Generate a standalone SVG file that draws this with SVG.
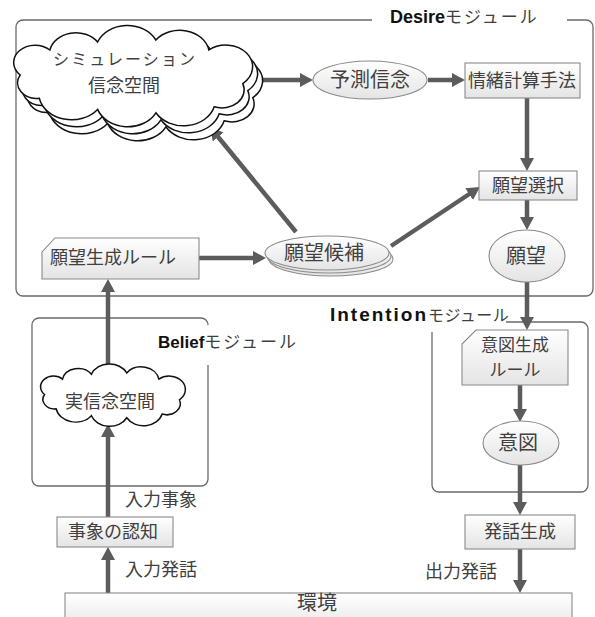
<svg xmlns="http://www.w3.org/2000/svg" xmlns:xlink="http://www.w3.org/1999/xlink" width="595" height="617" viewBox="0 0 595 617">
<style>
.mod{fill:none;stroke:#6a6a6a;stroke-width:1.3}
.box{fill:url(#g);stroke:#8a8a8a;stroke-width:1.1}
.cloud{fill:#fff;stroke:#111;stroke-width:1.5}
.t{font-family:"Noto Sans CJK JP","Liberation Sans",sans-serif;fill:#404040;font-size:18px;text-anchor:middle}
.l{font-family:"Noto Sans CJK JP","Liberation Sans",sans-serif;fill:#404040;font-size:18px}
.b{font-family:"Liberation Sans",Arial,sans-serif;font-weight:bold;fill:#111;font-size:18px}
.ar{fill:none;stroke:#5c5c5c;stroke-width:4.5;marker-end:url(#ah)}
</style>
<defs>
<linearGradient id="g" x1="0" y1="0" x2="0" y2="1">
<stop offset="0" stop-color="#ffffff"/>
<stop offset="1" stop-color="#e4e4e4"/>
</linearGradient>
<marker id="ah" markerUnits="userSpaceOnUse" markerWidth="14" markerHeight="14" refX="3" refY="7" orient="auto">
<path d="M0,0 L13,7 L0,14 z" fill="#5c5c5c"/>
</marker>
<path id="cl" vector-effect="non-scaling-stroke" d="M39.3,98.2 A19.1,15.5 0 0 1 20.2,75 A21.2,17.2 0 0 1 49.9,50 A26.5,21.5 0 0 1 97.6,42 A31.8,25.8 0 0 1 155.9,40 A29.7,24.1 0 0 1 208.9,50 A26.5,21.5 0 0 1 242.8,83.6 A22.3,18.1 0 0 1 214.2,106.8 A31.8,25.8 0 0 1 155.9,112.8 A31.8,25.8 0 0 1 97.6,109.4 A32.9,26.7 0 0 1 39.3,98.2 z"/>
</defs>
<rect width="595" height="617" fill="#fff"/>

<g id="desire-module">
<rect class="mod" x="16" y="20" width="577" height="276" rx="7"/>
<rect x="372" y="8" width="195" height="20" fill="#fff"/>
<text x="390" y="23"><tspan class="b">Desire</tspan><tspan class="l" style="font-size:17px" letter-spacing="2">モジュール</tspan></text>
</g>
<g id="belief-module">
<rect class="mod" x="32" y="318" width="176" height="168" rx="7"/>
<rect x="152" y="325" width="150" height="40" fill="#fff"/>
<text x="158" y="348"><tspan class="b" style="font-size:17px">Belief</tspan><tspan class="l" style="font-size:17px" letter-spacing="2">モジュール</tspan></text>
</g>
<g id="intention-module">
<rect class="mod" x="432" y="322" width="156" height="170" rx="7"/>
<rect x="322" y="302" width="184" height="30" fill="#fff"/>
<text x="330" y="321"><tspan class="b" style="font-size:19px" textLength="96" lengthAdjust="spacing">Intention</tspan><tspan class="l" style="font-size:16px" letter-spacing="0.5">モジュール</tspan></text>
</g>

<g id="connectors">
<path class="ar" d="M257,80 L303,80"/>
<path class="ar" d="M428,80 L455,80"/>
<path class="ar" d="M527,98 L527,161"/>
<path class="ar" d="M527,200 L527,220"/>
<path class="ar" d="M527,282 L527,320"/>
<path class="ar" d="M520,385 L520,412"/>
<path class="ar" d="M520,465 L520,505"/>
<path class="ar" d="M520,549 L520,583"/>
<path class="ar" d="M108,593 L108,557"/>
<path class="ar" d="M108,517 L108,434"/>
<path class="ar" d="M108,368 L108,289"/>
<path class="ar" d="M199,258 L256,258"/>
<path class="ar" d="M391,246 L471.6,192.5"/>
<path class="ar" d="M296,232 L216.3,134.7"/>
</g>

<g id="sim-cloud">
<use xlink:href="#cl" class="cloud" transform="translate(10,14)"/>
<use xlink:href="#cl" class="cloud" transform="translate(5,7)"/>
<use xlink:href="#cl" class="cloud"/>
<text class="t" x="124" y="65" style="font-size:16px" textLength="142" lengthAdjust="spacing">シミュレーション</text>
<text class="t" x="124" y="92">信念空間</text>
</g>
<g id="yosoku">
<ellipse class="box" cx="370" cy="80" rx="57" ry="19"/>
<text class="t" x="370" y="87" style="font-size:20px">予測信念</text>
</g>
<g id="jouchou">
<rect class="box" x="465" y="63" width="115" height="35"/>
<text class="t" x="522" y="86.5">情緒計算手法</text>
</g>
<g id="ganbou-sentaku">
<rect class="box" x="479" y="171" width="98" height="29"/>
<text class="t" x="528" y="192">願望選択</text>
</g>
<g id="ganbou">
<ellipse class="box" cx="527" cy="256" rx="38" ry="26"/>
<text class="t" x="526" y="263" style="font-size:20px">願望</text>
</g>
<g id="ganbou-kouho">
<ellipse class="box" cx="331" cy="259" rx="62" ry="17"/>
<ellipse class="box" cx="329" cy="256" rx="62" ry="17"/>
<ellipse class="box" cx="327" cy="253" rx="62" ry="17"/>
<text class="t" x="324" y="260" style="font-size:20px">願望候補</text>
</g>
<g id="ganbou-rule">
<path class="box" d="M55,238 L199,238 L199,279 L42,279 L42,252 z"/>
<text class="t" x="113" y="264">願望生成ルール</text>
</g>
<g id="real-cloud">
<use xlink:href="#cl" class="cloud" transform="translate(42,368) scale(0.606,0.616) translate(-16,-32)"/>
<text class="t" x="110" y="408">実信念空間</text>
</g>
<g id="jishou-ninchi">
<rect class="box" x="57" y="517" width="116" height="30"/>
<text class="t" x="113" y="538">事象の認知</text>
</g>
<g id="ito-rule">
<path class="box" d="M476,330 L568,330 L568,385 L462,385 L462,344 z"/>
<text class="t" x="515" y="351" style="font-size:17px">意図生成</text>
<text class="t" x="515" y="376" style="font-size:17px">ルール</text>
</g>
<g id="ito">
<ellipse class="box" cx="521" cy="443" rx="38" ry="22"/>
<text class="t" x="518" y="450" style="font-size:20px">意図</text>
</g>
<g id="hatsuwa">
<rect class="box" x="465" y="515" width="110" height="34"/>
<text class="t" x="520" y="538">発話生成</text>
</g>
<g id="kankyou">
<rect class="box" x="65" y="593" width="507" height="40"/>
<text class="t" x="317" y="610" style="font-size:20px">環境</text>
</g>
<g id="labels">
<text class="l" x="125" y="506">入力事象</text>
<text class="l" x="125" y="576">入力発話</text>
<text class="l" x="425" y="578">出力発話</text>
</g>
</svg>
